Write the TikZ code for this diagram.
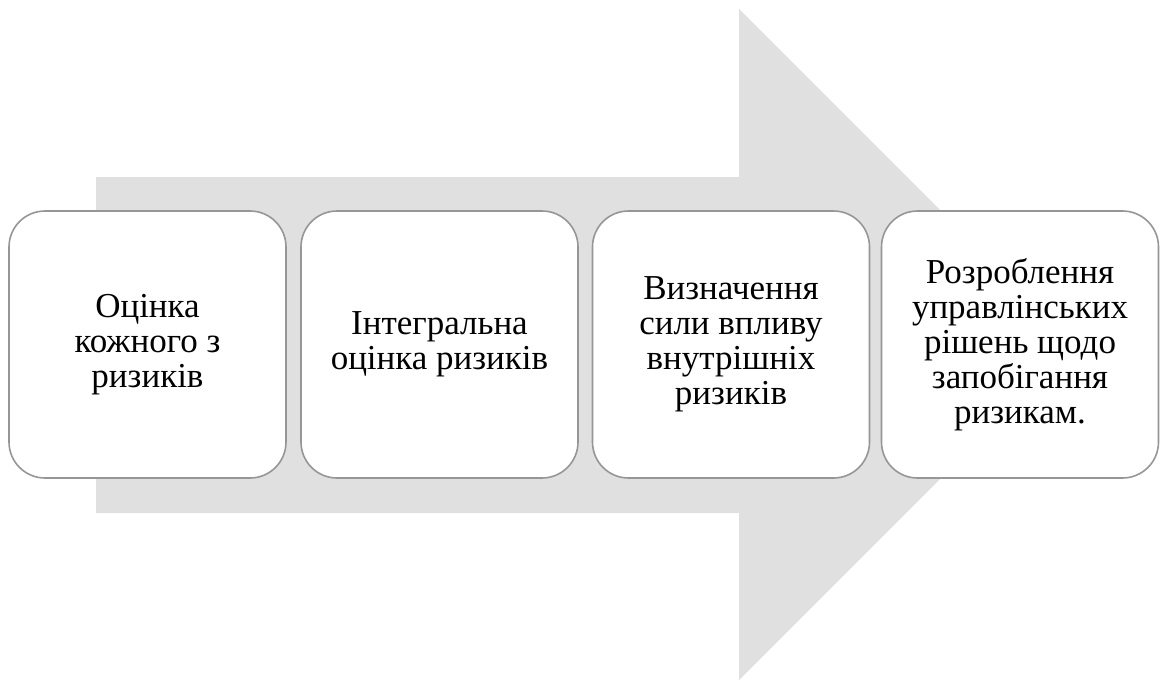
\documentclass[tikz,border=0pt]{standalone}
\usepackage{fontspec}
\setmainfont{Liberation Serif}
\begin{document}
\begin{tikzpicture}[x=1pt,y=-1pt,
  stagebox/.style={draw=boxgray, line width=1.6pt, fill=white, rounded corners=36pt,
    minimum width=277pt, minimum height=267pt, inner sep=0pt, align=center,
    font=\fontsize{35}{35}\selectfont, text=black}]
\definecolor{arrowgray}{HTML}{E0E0E0}
\definecolor{boxgray}{HTML}{969696}
\useasboundingbox (0,0) rectangle (1161,682);
\fill[arrowgray] (96,177) -- (739,177) -- (739,9) -- (1074.5,344.5) -- (739,680) -- (739,513) -- (96,513) -- cycle;
\node[stagebox] (s1) at (147.5,344.5) {Оцінка\\кожного з\\ризиків};
\node[stagebox] (s2) at (439.5,344.5) {Інтегральна\\оцінка ризиків};
\node[stagebox] (s3) at (731,344.5) {Визначення\\сили впливу\\внутрішніх\\ризиків};
\node[stagebox] (s4) at (1020,344.5) {Розроблення\\управлінських\\рішень щодо\\запобігання\\ризикам.};
\end{tikzpicture}
\end{document}
